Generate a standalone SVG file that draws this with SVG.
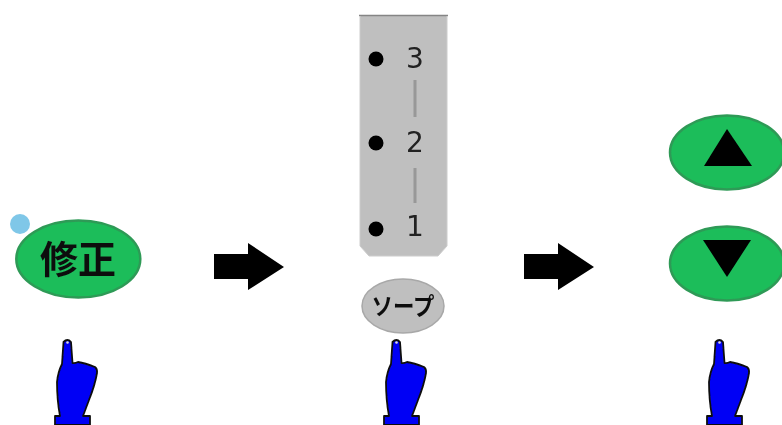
<svg xmlns="http://www.w3.org/2000/svg" width="782" height="425" viewBox="0 0 782 425">
<style>
.green{fill:#1bbd5a;stroke:#2f9a57;stroke-width:2.500}
.arrow{fill:#000}
.jp{font-family:"Noto Sans CJK JP","Liberation Sans",sans-serif;fill:#111;text-anchor:middle;font-weight:700}
.num{font-family:"DejaVu Sans","Liberation Sans",sans-serif;font-size:28px;fill:#222;text-anchor:middle}
.bar{stroke:#989898;stroke-width:3;fill:none}
.soft{filter:url(#soft)}
</style>
<defs>
<filter id="soft" x="-5%" y="-5%" width="110%" height="110%"><feGaussianBlur stdDeviation="0.450"/></filter>
<g id="hand">
<path d="M63.500 342Q67.500 338 71 342L72.500 363Q75 363.500 78 362Q85 363 95 367Q97.500 369 97 373Q95 385 89 400L83 416H90V425H55V416H60Q57 400 57 382Q58 372 62 364Z" fill="#0000f5" stroke="#111" stroke-width="1.800" stroke-linejoin="round"/>
<circle cx="67.500" cy="342.500" r="1.300" fill="#ddd"/>
</g>
<path id="blockarrow" d="M214 254H248V243L284 267L248 290V279H214Z"/>
</defs>
<g id="connectors">
<use href="#blockarrow" class="arrow"/>
<use href="#blockarrow" class="arrow" x="310"/>
</g>
<g id="node-shusei" class="soft">
<circle cx="20" cy="224" r="10" fill="#7fc7e8"/>
<ellipse cx="78.300" cy="259" rx="62" ry="38.500" class="green"/>
<text x="78" y="273" class="jp" font-size="38">修正</text>
<use href="#hand"/>
</g>
<g id="node-panel" class="soft">
<path d="M360 16H447V246L438 256H369L360 246Z" fill="#bfbfbf"/>
<path d="M359 15.500H448" stroke="#858585" stroke-width="1.500" fill="none"/>
<path d="M360 16V246L369 256H438L447 246V16" stroke="#cccccc" stroke-width="1" fill="none"/>
<circle cx="376" cy="59" r="7.500" fill="#000"/>
<circle cx="376" cy="143" r="7.500" fill="#000"/>
<circle cx="376" cy="229" r="7.500" fill="#000"/>
<text x="415" y="68" class="num">3</text>
<text x="415" y="152" class="num">2</text>
<text x="415" y="236" class="num">1</text>
<path d="M415 80V117M415 168V203" class="bar"/>
</g>
<g id="node-save" class="soft">
<ellipse cx="403" cy="306" rx="41" ry="27" fill="#bfbfbf" stroke="#a8a8a8" stroke-width="1.500"/>
<text x="403" y="315" class="jp" font-size="24" textLength="63" lengthAdjust="spacingAndGlyphs">ソープ</text>
<use href="#hand" x="329"/>
</g>
<g id="node-updown" class="soft">
<ellipse cx="727" cy="152.500" rx="57" ry="37" class="green"/>
<path d="M727 129L752 166H704Z" fill="#000"/>
<ellipse cx="727" cy="263.500" rx="57" ry="37" class="green"/>
<path d="M703 240H751L727 277Z" fill="#000"/>
<use href="#hand" x="652"/>
</g>
</svg>
